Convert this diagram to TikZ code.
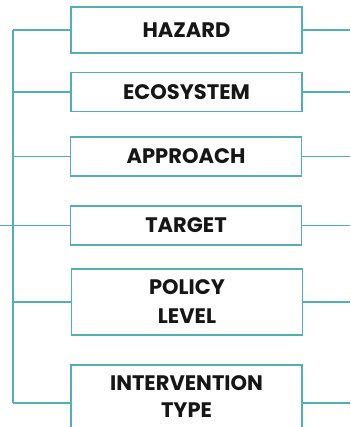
\documentclass[tikz,border=0pt]{standalone}
\usepackage{fontspec}
\setmainfont{Poppins}
\definecolor{teal1}{RGB}{82,176,179}
\definecolor{ink}{RGB}{22,22,22}
\begin{document}
\begin{tikzpicture}[x=1pt,y=-1pt,
  cat/.style={draw=teal1,line width=1.6pt,fill=white,minimum width=231pt,
    inner sep=0pt,align=center,text=ink,
    font=\fontsize{21}{29}\selectfont\bfseries},
  lbl/.style={inner sep=0pt,align=center,text=ink,
    font=\fontsize{21}{27}\selectfont\bfseries},
  link/.style={draw=teal1,line width=1.6pt}]
\useasboundingbox (0,0) rectangle (350,427);
\node[cat,minimum height=46pt] (b1) at (186.5,30) {HAZARD};
\node[cat,minimum height=39pt] (b2) at (186.5,92) {ECOSYSTEM};
\node[cat,minimum height=39pt] (b3) at (186,156.5) {APPROACH};
\node[cat,minimum height=39pt] (b4) at (186,225.5) {TARGET};
\node[cat,minimum height=66pt] (b5) at (187,302) {POLICY\\LEVEL};
\node[cat,minimum height=76pt] (b6) at (186.5,403) {};
\node[lbl] (t6) at (186.5,397) {INTERVENTION\\TYPE};
\coordinate (top) at (12.7,30);
\coordinate (bot) at (12.7,403);
\coordinate (in) at (0,225.5);
\coordinate (rx) at (350,0);
\draw[link] (top) -- (bot);
\draw[link] (in) -- (b4.west);
\foreach \b in {b1,b2,b3,b5,b6}{
  \draw[link] (top |- \b.west) -- (\b.west);
}
\foreach \b in {b1,b2,b3,b4,b5,b6}{
  \draw[link] (\b.east) -- (rx |- \b.east);
}
\end{tikzpicture}
\end{document}
